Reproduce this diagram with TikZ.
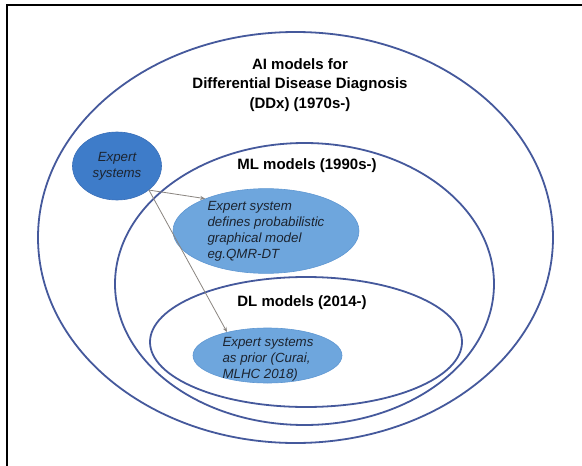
\documentclass[tikz,border=0pt]{standalone}
\usepackage{fontspec}
\setmainfont{Liberation Sans}
\usetikzlibrary{shapes.geometric,arrows.meta}
\definecolor{ringblue}{HTML}{45599C}
\definecolor{darkfill}{HTML}{3E7CC9}
\definecolor{darkedge}{HTML}{3A6FB8}
\definecolor{lightfill}{HTML}{6EA6DD}
\definecolor{lightedge}{HTML}{5F97D2}
\definecolor{inktext}{HTML}{1C2430}
\definecolor{arrowgray}{HTML}{8A8580}
\tikzset{
  ring/.style={ellipse, draw=ringblue, line width=1.8pt, inner sep=0pt},
  darkblob/.style={ellipse, fill=darkfill, draw=darkedge, line width=0.6pt, inner sep=0pt,
     text=inktext, font=\fontsize{13.3}{16}\selectfont\itshape, align=center},
  lightblob/.style={ellipse, fill=lightfill, draw=lightedge, line width=0.6pt, inner sep=0pt,
     text=inktext, font=\fontsize{13.3}{16}\selectfont\itshape, align=left},
  title/.style={font=\fontsize{15}{19.5}\selectfont\bfseries, align=center, inner sep=0pt, text=black},
  link/.style={draw=arrowgray, line width=0.8pt, -{Stealth[length=5pt,width=4pt]}},
  frameline/.style={draw=black, line width=1.8pt}
}
\begin{document}
\begin{tikzpicture}[x=1pt,y=-1pt]
\useasboundingbox (0,0) rectangle (582,466);
\fill[white] (0,0) rectangle (582,466);
% frame (left and top edges)
\draw[frameline] (7,466) -- (7,5) -- (582,5);
% rings
\node[ring, minimum width=515pt, minimum height=411pt] (outer) at (295.5,237.5) {};
\node[ring, minimum width=379pt, minimum height=282pt] (ml) at (304.5,284) {};
\node[ring, minimum width=312pt, minimum height=130pt] (dl) at (306,342) {};
% titles
\node[title] (aititle) at (300,85) {AI models for\\Differential Disease Diagnosis\\(DDx) (1970s-)};
\node[title] (mltitle) at (307,166) {ML models (1990s-)};
\node[title] (dltitle) at (302,303) {DL models (2014-)};
% blobs
\node[darkblob, minimum width=89pt, minimum height=68pt] (es) at (117,166) {Expert\\systems};
\node[lightblob, minimum width=186pt, minimum height=75pt] (pgm) at (266,231)
  {Expert system\\defines probabilistic\\graphical model\\eg.QMR-DT};
\node[lightblob, minimum width=149pt, minimum height=55pt] (prior) at (267.5,355.5) {};
\node[lightblob, draw=none, fill=none, minimum width=0pt, minimum height=0pt] (priortext) at (268,359)
  {Expert systems\\as prior (Curai,\\MLHC 2018)};
% connectors
\coordinate (src) at (es.-37);
\draw[link] (src) -- (pgm.152);
\draw[link] (src) -- (prior.150);
\end{tikzpicture}
\end{document}
